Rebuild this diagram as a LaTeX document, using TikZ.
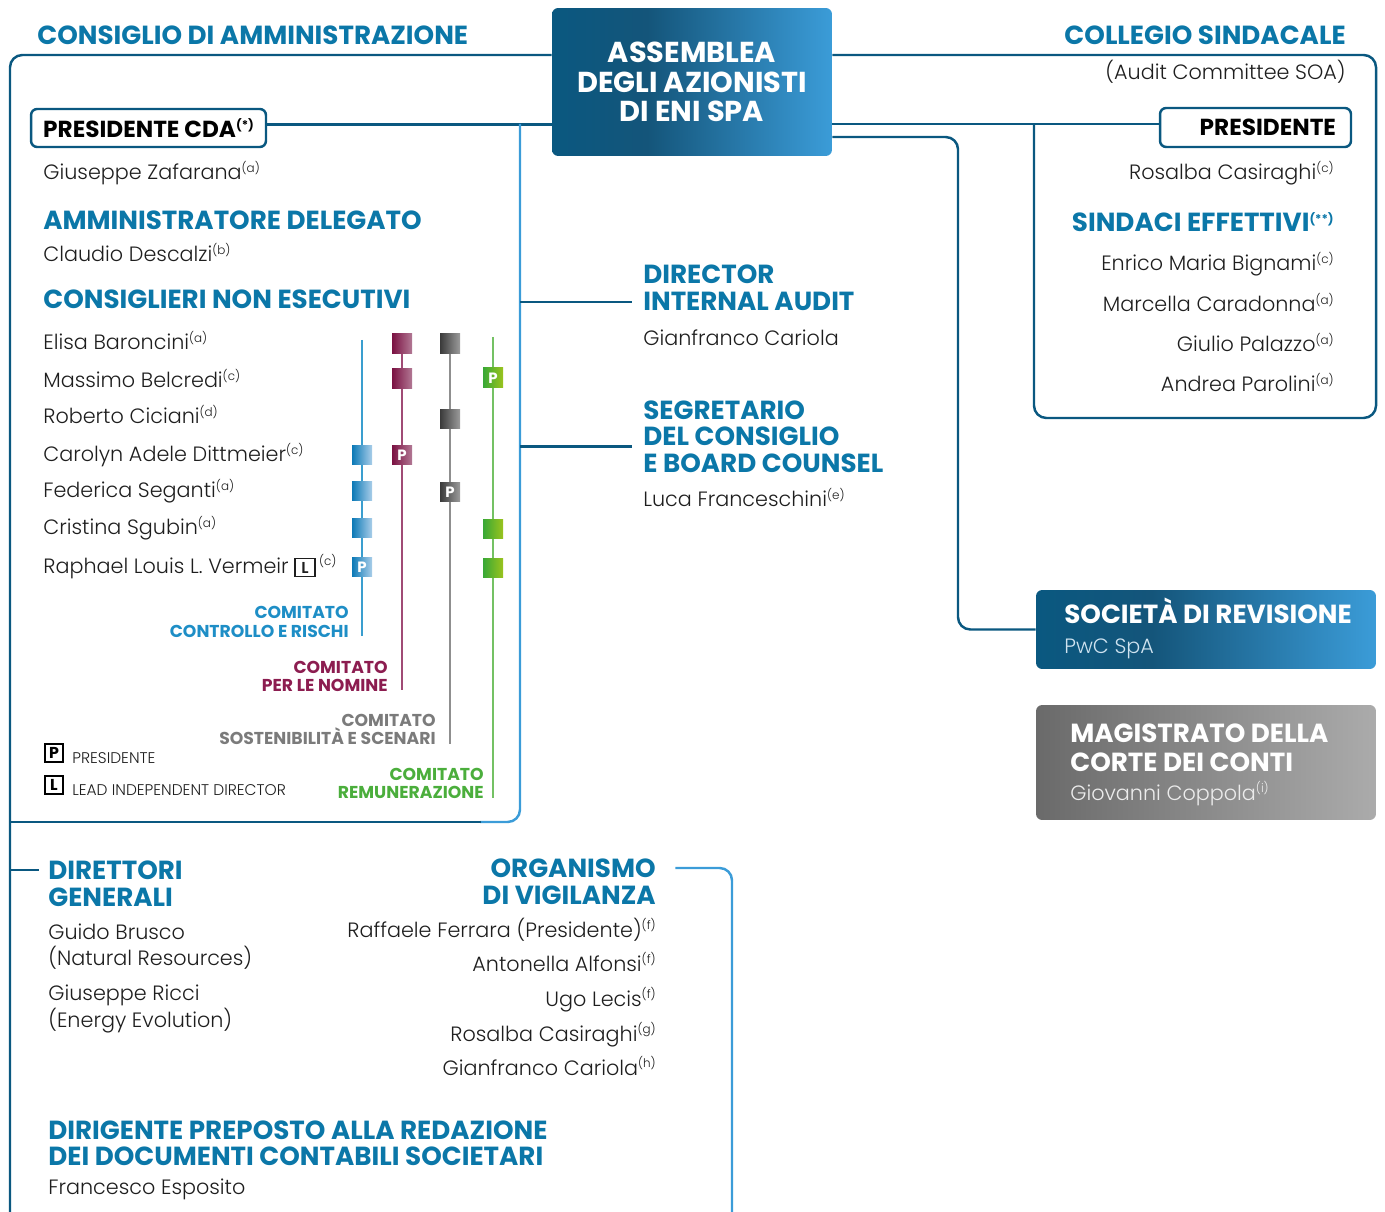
\documentclass[tikz,border=0pt]{standalone}
\usepackage{fontspec}
\setmainfont{Poppins}
\IfFontExistsTF{Poppins Light}{\newfontfamily\lightfont{Poppins Light}}{\newfontfamily\lightfont{Poppins}}
\newcommand{\boldfont}{\bfseries}
\usepackage{tikz}
\usetikzlibrary{positioning}
\definecolor{eniblue}{HTML}{0B77A8}
\definecolor{enidark}{HTML}{0A5880}
\definecolor{enideep}{HTML}{14557A}
\definecolor{enilight}{HTML}{3B9CD8}
\definecolor{txt}{HTML}{1E1E1E}
\definecolor{ccr}{HTML}{1E8EC6}
\definecolor{ccrA}{HTML}{0B79B6}
\definecolor{ccrB}{HTML}{A9CDE9}
\definecolor{ccrL}{HTML}{3A9ECF}
\definecolor{nom}{HTML}{8C1D50}
\definecolor{nomA}{HTML}{7A1142}
\definecolor{nomB}{HTML}{B27894}
\definecolor{nomL}{HTML}{A04B75}
\definecolor{sos}{HTML}{7B7B7B}
\definecolor{sosA}{HTML}{3A3A3A}
\definecolor{sosB}{HTML}{9C9C9C}
\definecolor{sosL}{HTML}{8F8F8F}
\definecolor{rem}{HTML}{4BAE3C}
\definecolor{remA}{HTML}{38A836}
\definecolor{remB}{HTML}{9AC31E}
\definecolor{remL}{HTML}{74C164}
\definecolor{grayA}{HTML}{6A6A6A}
\definecolor{grayB}{HTML}{ABABAB}
\definecolor{pale}{HTML}{CFE3F0}
\pgfdeclarehorizontalshading{eni shade}{100bp}{color(0bp)=(enidark); color(25bp)=(enidark);
  color(42bp)=(enideep); color(75bp)=(enilight); color(100bp)=(enilight)}
\newcommand{\nota}[1]{\raisebox{0.34em}{\fontsize{6.8}{7}\selectfont(#1)}}
\newcommand{\lbox}[1]{{\setlength{\fboxsep}{1.6pt}\setlength{\fboxrule}{0.9pt}\fbox{\boldfont\fontsize{9}{9}\selectfont\,#1\,}}}

\begin{document}
\begin{tikzpicture}[x=0.02cm, y=-0.02cm,
  head/.style={font=\boldfont\fontsize{14.9}{16}\selectfont, text=eniblue, inner sep=0pt},
  person/.style={font=\lightfont\fontsize{11.8}{14}\selectfont, text=txt, inner sep=0pt},
  darkline/.style={draw=enidark, line width=1.4pt},
  lightline/.style={draw=enilight, line width=1.4pt},
  presbox/.style={draw=enidark, line width=1.4pt, rounded corners=3.5pt, inner sep=0pt,
    font=\boldfont\fontsize{13.2}{14}\selectfont, text=black},
  boxhead/.style={font=\boldfont\fontsize{14.9}{16}\selectfont, text=white, inner sep=0pt},
  comlabel/.style={font=\boldfont\fontsize{9.8}{10}\selectfont, inner sep=0pt, anchor=base east},
  sq/.style={minimum size=0.4cm, inner sep=0pt, font=\boldfont\fontsize{8.5}{8}\selectfont, text=white},
  sqccr/.style={sq, left color=ccrA, right color=ccrB},
  sqnom/.style={sq, left color=nomA, right color=nomB},
  sqsos/.style={sq, left color=sosA, right color=sosB},
  sqrem/.style={sq, left color=remA, right color=remB},
  legbox/.style={draw=black, line width=0.9pt, minimum size=0.36cm, inner sep=0pt,
    font=\boldfont\fontsize{9}{8}\selectfont},
  legtext/.style={font=\lightfont\fontsize{8.8}{9}\selectfont, text=txt, inner sep=0pt, anchor=base west}]
\useasboundingbox (0,0) rectangle (1385,1212);

% assemblea e collegamenti principali
\node[shading=eni shade, rounded corners=3.5pt, minimum width=5.6cm, minimum height=2.96cm,
  align=center, text=white, font=\boldfont\fontsize{16.4}{16.6}\selectfont] (assemblea) at (692,82)
  {ASSEMBLEA\\DEGLI AZIONISTI\\DI ENI SPA};
\coordinate (cdaTop) at (10,55);
\coordinate (cdaR) at (520,124);
\coordinate (csTop) at (1376,55);
\coordinate (csBottom) at (1034,418);
\coordinate (revBend) at (958,137);
\coordinate (bottomEdge) at (0,1212);

% consiglio di amministrazione
\node[head, anchor=base west] (cdaTitle) at (37,45) {CONSIGLIO DI AMMINISTRAZIONE};
\node[presbox, minimum width=4.7cm, minimum height=0.76cm] (prescda) at (148.5,128)
  {PRESIDENTE CDA\nota{*}};
\draw[darkline, rounded corners=7pt] (assemblea.west |- cdaTop) -- (cdaTop) -- (cdaTop |- bottomEdge);
\draw[darkline] ([yshift=2pt]prescda.east) -- ([yshift=2pt]assemblea.west |- prescda.east);
\draw[lightline, rounded corners=7pt] (cdaR) -- (520,822) -- (480,822);
\draw[darkline] (481,822) -- (cdaTop |- 0,822);

\node[person, anchor=base west] (zafarana) at (43,180) {Giuseppe Zafarana\nota{a}};
\node[head, anchor=base west] (adTitle) at (43,230) {AMMINISTRATORE DELEGATO};
\node[person, anchor=base west] (descalzi) at (43,262) {Claudio Descalzi\nota{b}};
\node[head, anchor=base west] (cneTitle) at (43,309) {CONSIGLIERI NON ESECUTIVI};
\foreach \nm/\yy [count=\i] in {Elisa Baroncini\nota{a}/350, Massimo Belcredi\nota{c}/388,
    Roberto Ciciani\nota{d}/424, Carolyn Adele Dittmeier\nota{c}/462, Federica Seganti\nota{a}/498,
    Cristina Sgubin\nota{a}/535, Raphael Louis L. Vermeir \lbox{L}\,\nota{c}/573}
  \node[person, anchor=base west] (cons\i) at (43,\yy) {\nm};

% comitati
\draw[ccrL, line width=1pt] (362,340) -- (362,636);
\draw[nomL, line width=1pt] (402,336) -- (402,690);
\draw[sosL, line width=1pt] (450,336) -- (450,744);
\draw[remL, line width=1pt] (493,337) -- (493,798);
\foreach \st/\cx/\cy/\lab in {ccr/362/455/, ccr/362/491/, ccr/362/528/, ccr/362/567/P,
    nom/402/344/, nom/402/379/, nom/402/455/P,
    sos/450/344/, sos/450/419/, sos/450/492/P,
    rem/493/378/P, rem/493/529/, rem/493/568/}
  \node[sq\st] (sq\st\cy) at (\cx,\cy) {\lab};
\node[comlabel, text=ccr] (ccrA) at (349,618) {COMITATO};
\node[comlabel, text=ccr] (ccrB) at (349,637) {CONTROLLO E RISCHI};
\node[comlabel, text=nom] (nomA) at (388,673) {COMITATO};
\node[comlabel, text=nom] (nomB) at (388,691) {PER LE NOMINE};
\node[comlabel, text=sos] (sosA) at (436,726) {COMITATO};
\node[comlabel, text=sos] (sosB) at (436,744) {SOSTENIBILITÀ E SCENARI};
\node[comlabel, text=rem] (remA) at (484,780) {COMITATO};
\node[comlabel, text=rem] (remB) at (484,798) {REMUNERAZIONE};

% legenda
\node[legbox] (legP) at (54,753) {P};
\node[legtext] (legPtext) at (72,763) {PRESIDENTE};
\node[legbox] (legL) at (54,785) {L};
\node[legtext] (legLtext) at (72,795) {LEAD INDEPENDENT DIRECTOR};

% internal audit e segretario
\node[head, anchor=base west] (auditA) at (643,284) {DIRECTOR};
\node[head, anchor=base west] (auditB) at (643,311) {INTERNAL AUDIT};
\node[person, anchor=base west] (cariola) at (643,346) {Gianfranco Cariola};
\draw[darkline] (auditB.west -| cdaR) -- ([xshift=-6pt]auditB.west);
\node[head, anchor=base west] (segA) at (643,420) {SEGRETARIO};
\node[head, anchor=base west] (segB) at (643,446) {DEL CONSIGLIO};
\node[head, anchor=base west] (segC) at (643,473) {E BOARD COUNSEL};
\node[person, anchor=base west] (franceschini) at (643,507) {Luca Franceschini\nota{e}};
\draw[darkline] ([yshift=-5.5pt]segB.west -| cdaR) -- ([yshift=-5.5pt,xshift=-6pt]segB.west);

% collegio sindacale
\node[head, anchor=base east] (csTitle) at (1346,45) {COLLEGIO SINDACALE};
\node[person, anchor=base east] (csSub) at (1346,80) {(Audit Committee SOA)};
\node[presbox, text width=3.22cm, align=right, inner xsep=0.3cm, minimum height=0.78cm]
  (prescs) at (1255.5,127.5) {PRESIDENTE};
\draw[darkline, rounded corners=7pt] (assemblea.east |- csTop) -- (csTop) -- (csTop |- csBottom)
  -- (csBottom) -- ([yshift=2pt]csBottom |- prescs.west);
\draw[darkline] ([yshift=2pt]assemblea.east |- prescs.west) -- ([yshift=2pt]prescs.west);
\node[person, anchor=base east] (casiraghi) at (1334,180) {Rosalba Casiraghi\nota{c}};
\node[head, anchor=base east] (seTitle) at (1334,232) {SINDACI EFFETTIVI\nota{**}};
\foreach \nm/\yy [count=\i] in {Enrico Maria Bignami\nota{c}/271, Marcella Caradonna\nota{a}/312,
    Giulio Palazzo\nota{a}/352, Andrea Parolini\nota{a}/392}
  \node[person, anchor=base east] (sind\i) at (1334,\yy) {\nm};

% revisione e corte dei conti
\node[shading=eni shade, rounded corners=3.5pt, minimum width=6.8cm, minimum height=1.58cm]
  (revisione) at (1206,629.5) {};
\node[boxhead, anchor=base west] (revTitle) at (1064,623) {SOCIETÀ DI REVISIONE};
\node[person, text=pale, anchor=base west] (pwc) at (1064,653) {PwC SpA};
\draw[darkline, rounded corners=7pt] (assemblea.east |- revBend) -- (revBend) -- (revBend |- revisione.west)
  -- (revisione.west);
\node[left color=grayA, right color=grayB, rounded corners=3.5pt, minimum width=6.8cm,
  minimum height=2.3cm] (magistrato) at (1206,762.5) {};
\node[boxhead, anchor=base west] (magA) at (1070,742) {MAGISTRATO DELLA};
\node[boxhead, anchor=base west] (magB) at (1070,771) {CORTE DEI CONTI};
\node[person, text=white!85!gray, anchor=base west] (coppola) at (1070,800) {Giovanni Coppola\nota{i}};

% direttori generali
\node[head, anchor=base west] (dgA) at (48,879) {DIRETTORI};
\node[head, anchor=base west] (dgB) at (48,906) {GENERALI};
\draw[darkline] (dgA.west -| cdaTop) -- ([xshift=-5pt]dgA.west);
\node[person, anchor=base west] (brusco) at (48,939) {Guido Brusco};
\node[person, anchor=base west] (bruscoB) at (48,965) {(Natural Resources)};
\node[person, anchor=base west] (ricci) at (48,1000) {Giuseppe Ricci};
\node[person, anchor=base west] (ricciB) at (48,1027) {(Energy Evolution)};

% organismo di vigilanza
\node[head, anchor=base east] (odvA) at (656,877) {ORGANISMO};
\node[head, anchor=base east] (odvB) at (656,904) {DI VIGILANZA};
\coordinate (odvBend) at (732,868);
\draw[lightline, rounded corners=7pt] ([xshift=11pt]odvA.east |- odvBend) -- (odvBend) -- (odvBend |- bottomEdge);
\foreach \nm/\yy [count=\i] in {Raffaele Ferrara (Presidente)\nota{f}/937, Antonella Alfonsi\nota{f}/971,
    Ugo Lecis\nota{f}/1006, Rosalba Casiraghi\nota{g}/1041, Gianfranco Cariola\nota{h}/1075}
  \node[person, anchor=base east] (odv\i) at (656,\yy) {\nm};

% dirigente preposto
\node[head, anchor=base west] (dpA) at (48,1139) {DIRIGENTE PREPOSTO ALLA REDAZIONE};
\node[head, anchor=base west] (dpB) at (48,1165) {DEI DOCUMENTI CONTABILI SOCIETARI};
\node[person, anchor=base west] (esposito) at (48,1194) {Francesco Esposito};
\end{tikzpicture}
\end{document}
